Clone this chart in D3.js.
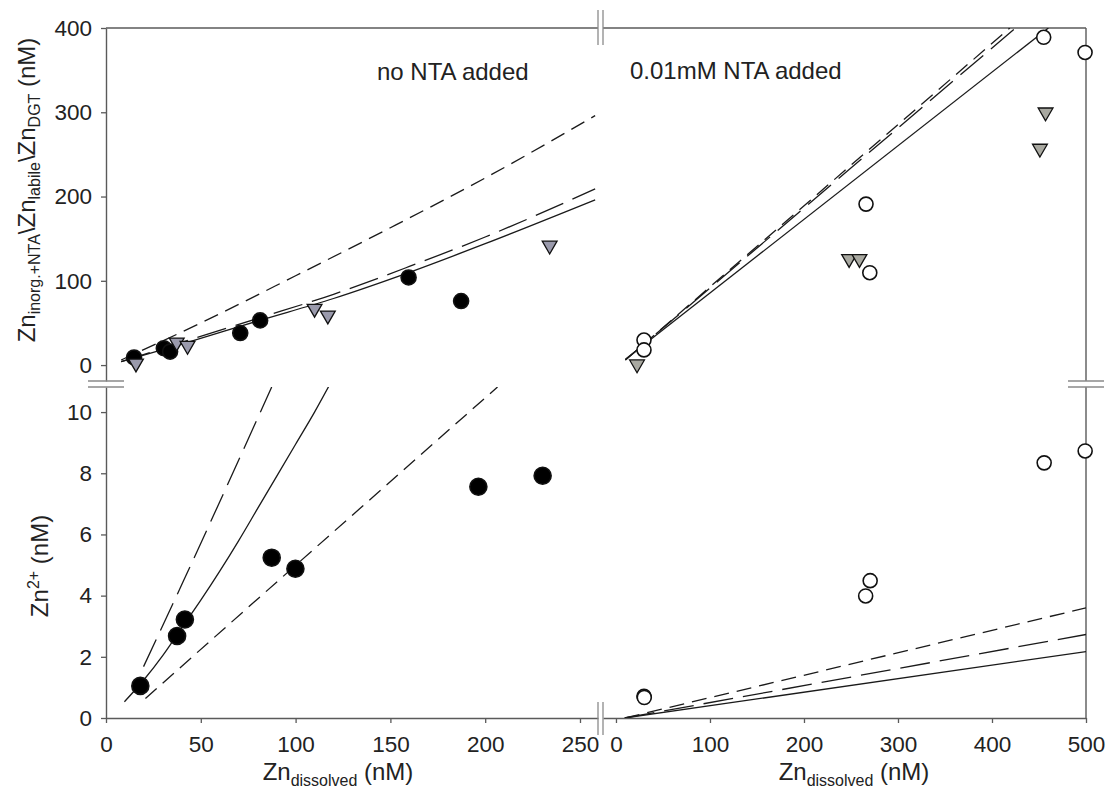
<!DOCTYPE html>
<html>
<head>
<meta charset="utf-8">
<script src="https://cdn.jsdelivr.net/npm/d3@7"></script>
<style>
  body { margin: 0; background: #fff; }
  svg text { font-family: "Liberation Sans", Arial, sans-serif; fill: #222; }
</style>
</head>
<body>
<svg id="chart" width="1109" height="791"></svg>
<script>
// ---- data ----
// left column: no NTA added (x 0..260), right column: 0.01mM NTA added (x 0..500)

// top left: Zn labile / DGT (nM)
const tlCircleX = [14.8, 30.5, 33.8, 70.8, 81.3, 159.6, 187.3];
const tlCircleY = [9, 20, 16, 38, 53, 104, 76];
const tlTriX = [15.8, 37.3, 43, 110, 117, 234];
const tlTriY = [2, 27, 23, 67, 59, 142];
const tlSolidX = [8, 40, 81, 120, 160, 200, 258];
const tlSolidY = [4, 25, 53, 79, 110, 144, 196];
const tlLongX = [8, 40, 81, 120, 160, 200, 258];
const tlLongY = [4, 27, 56, 84, 117, 152, 209];
const tlShortX = [8, 50, 100, 150, 200, 258];
const tlShortY = [6, 50, 106, 163, 222, 296];

// top right
const trCircleX = [455, 499, 266, 270, 29.8, 29.8];
const trCircleY = [389, 371, 191, 109.6, 29.7, 18];
const trTriX = [457, 451, 248, 259, 22.4];
const trTriY = [300, 257, 126, 126, 1];
const trSolidX = [10, 460];
const trSolidY = [7, 400];
const trLongX = [10, 425];
const trLongY = [6, 400];
const trShortX = [10, 419];
const trShortY = [6, 400];

// bottom left: Zn2+ (nM)
const blCircleX = [18.1, 37.5, 41.6, 87.4, 99.9, 196.4, 230.3];
const blCircleY = [1.05, 2.68, 3.22, 5.24, 4.88, 7.56, 7.92];
const blSolidX = [9.7, 20, 30, 40, 50, 60, 70, 80, 90, 100, 110, 118];
const blSolidY = [0.53, 1.25, 2.05, 2.95, 3.85, 4.8, 5.8, 6.85, 7.9, 8.95, 10.0, 10.9];
const blLongX = [19.8, 41, 87.4];
const blLongY = [1.68, 4.5, 10.82];
const blShortX = [20.8, 100, 206.5];
const blShortY = [0.64, 4.99, 10.82];

// bottom right
const brCircleX = [29.8, 30.1, 265.6, 270.4, 455.5, 499.1];
const brCircleY = [0.71, 0.67, 3.99, 4.49, 8.34, 8.73];
const brSolidX = [9.4, 500];
const brSolidY = [0, 2.17];
const brLongX = [9.4, 500];
const brLongY = [0, 2.73];
const brShortX = [9.4, 500];
const brShortY = [0, 3.60];

const leftXTicks = [0, 50, 100, 150, 200, 250];
const rightXTicks = [0, 100, 200, 300, 400, 500];
const topYTicks = [0, 100, 200, 300, 400];
const bottomYTicks = [0, 2, 4, 6, 8, 10];

// ---- layout ----
const svg = d3.select('#chart');
const axisColor = '#5a5a5a';
const breakColor = '#8a8a8a';
const lineColor = '#1a1a1a';
const SHORT_DASH = '15,8';
const LONG_DASH = '30,10';

const xL = d3.scaleLinear().domain([0, 259.5]).range([106, 598]);
const xR = d3.scaleLinear().domain([-13.8, 500]).range([603, 1086]);
const yT = d3.scaleLinear().domain([-18.9, 400]).range([381, 28]);
const yB = d3.scaleLinear().domain([0, 10.82]).range([718, 387]);

// clip regions for the model lines
const defs = svg.append('defs');
function addClip(id, x0, x1, y0, y1) {
    defs.append('clipPath').attr('id', id)
        .append('rect')
        .attr('x', x0).attr('y', y0)
        .attr('width', x1 - x0).attr('height', y1 - y0);
}
addClip('clip-tl', xL.range()[0], xL.range()[1], yT.range()[1], yT.range()[0]);
addClip('clip-tr', xR.range()[0], xR.range()[1], yT.range()[1], yT.range()[0]);
addClip('clip-bl', xL.range()[0], xL.range()[1], yB.range()[1], yB.range()[0]);
addClip('clip-br', xR.range()[0], xR.range()[1], yB.range()[1], yB.range()[0]);

function zip(xs, ys) { return xs.map((v, i) => [v, ys[i]]); }

function drawLine(xs, ys, x, y, dash, clip) {
    const line = d3.line()
        .x(d => x(d[0]))
        .y(d => y(d[1]))
        .curve(d3.curveMonotoneX);
    svg.append('path')
        .datum(zip(xs, ys))
        .attr('clip-path', `url(#${clip})`)
        .attr('fill', 'none')
        .attr('stroke', lineColor)
        .attr('stroke-width', 1.3)
        .attr('stroke-dasharray', dash)
        .attr('d', line);
}

function drawCircles(xs, ys, x, y, fill, r) {
    svg.append('g').selectAll('circle')
        .data(zip(xs, ys))
        .join('circle')
        .attr('cx', d => x(d[0]))
        .attr('cy', d => y(d[1]))
        .attr('r', r)
        .attr('fill', fill)
        .attr('stroke', '#111')
        .attr('stroke-width', 1.6);
}

function drawTriangles(xs, ys, x, y, fill) {
    const tri = d3.symbol().type(d3.symbolTriangle).size(95);
    svg.append('g').selectAll('path')
        .data(zip(xs, ys))
        .join('path')
        .attr('transform', d => `translate(${x(d[0])},${y(d[1])}) rotate(180)`)
        .attr('d', tri)
        .attr('fill', fill)
        .attr('stroke', '#111')
        .attr('stroke-width', 1.3);
}

// ---- axes ----
function styleAxis(g) {
    g.attr('font-size', null).attr('font-family', null);
    g.select('.domain').attr('stroke', axisColor).attr('stroke-width', 1.4);
    g.selectAll('.tick line').attr('stroke', axisColor).attr('stroke-width', 1.3);
    g.selectAll('.tick text').style('font-size', '22.5px').attr('fill', '#222');
}

svg.append('g').attr('transform', 'translate(106,0)')
    .call(d3.axisLeft(yT).tickValues(topYTicks).tickSize(5).tickSizeOuter(0).tickPadding(9))
    .call(styleAxis);
svg.append('g').attr('transform', 'translate(106,0)')
    .call(d3.axisLeft(yB).tickValues(bottomYTicks).tickSize(5).tickSizeOuter(0).tickPadding(9))
    .call(styleAxis);
svg.append('g').attr('transform', 'translate(0,718)')
    .call(d3.axisBottom(xL).tickValues(leftXTicks).tickSize(5).tickSizeOuter(0).tickPadding(13))
    .call(styleAxis);
svg.append('g').attr('transform', 'translate(0,718)')
    .call(d3.axisBottom(xR).tickValues(rightXTicks).tickSize(5).tickSizeOuter(0).tickPadding(13))
    .call(styleAxis);

// top and right frame lines (no ticks)
const frame = svg.append('g').attr('stroke', axisColor).attr('stroke-width', 1.4);
frame.append('line').attr('x1', xL.range()[0]).attr('x2', xL.range()[1]).attr('y1', 28).attr('y2', 28);
frame.append('line').attr('x1', xR.range()[0]).attr('x2', xR.range()[1]).attr('y1', 28).attr('y2', 28);
frame.append('line').attr('x1', 1086).attr('x2', 1086).attr('y1', yT.range()[1]).attr('y2', yT.range()[0]);
frame.append('line').attr('x1', 1086).attr('x2', 1086).attr('y1', yB.range()[1]).attr('y2', yB.range()[0]);

// axis break marks
const brk = svg.append('g').attr('stroke', breakColor).attr('stroke-width', 1.3);
[598, 603].forEach(bx => {
    brk.append('line').attr('x1', bx).attr('x2', bx).attr('y1', 10).attr('y2', 45);
    brk.append('line').attr('x1', bx).attr('x2', bx).attr('y1', 702).attr('y2', 735);
});
[381, 387].forEach(by => {
    brk.append('line').attr('x1', 88).attr('x2', 124).attr('y1', by).attr('y2', by);
    brk.append('line').attr('x1', 1068).attr('x2', 1104).attr('y1', by).attr('y2', by);
});

// ---- model lines ----
drawLine(tlShortX, tlShortY, xL, yT, SHORT_DASH, 'clip-tl');
drawLine(tlLongX, tlLongY, xL, yT, LONG_DASH, 'clip-tl');
drawLine(tlSolidX, tlSolidY, xL, yT, null, 'clip-tl');

drawLine(trShortX, trShortY, xR, yT, SHORT_DASH, 'clip-tr');
drawLine(trLongX, trLongY, xR, yT, LONG_DASH, 'clip-tr');
drawLine(trSolidX, trSolidY, xR, yT, null, 'clip-tr');

drawLine(blShortX, blShortY, xL, yB, SHORT_DASH, 'clip-bl');
drawLine(blLongX, blLongY, xL, yB, LONG_DASH, 'clip-bl');
drawLine(blSolidX, blSolidY, xL, yB, null, 'clip-bl');

drawLine(brShortX, brShortY, xR, yB, SHORT_DASH, 'clip-br');
drawLine(brLongX, brLongY, xR, yB, LONG_DASH, 'clip-br');
drawLine(brSolidX, brSolidY, xR, yB, null, 'clip-br');

// ---- measured points ----
drawCircles(tlCircleX, tlCircleY, xL, yT, '#000', 7.5);
drawTriangles(tlTriX, tlTriY, xL, yT, '#9a9aac');
drawTriangles(trTriX, trTriY, xR, yT, '#a9a9a1');
drawCircles(trCircleX, trCircleY, xR, yT, '#fff', 7);
drawCircles(blCircleX, blCircleY, xL, yB, '#000', 8.5);
drawCircles(brCircleX, brCircleY, xR, yB, '#fff', 7);

// ---- texts ----
svg.append('text').attr('x', 377).attr('y', 80).style('font-size', '24px').text('no NTA added');
svg.append('text').attr('x', 630).attr('y', 79).style('font-size', '24px').text('0.01mM NTA added');

function subText(sel, parts) {
    parts.forEach(p => {
        const t = sel.append('tspan').text(p.t);
        if (p.sub) t.style('font-size', '16px').attr('baseline-shift', p.sub);
    });
}

const yTopLabel = svg.append('text')
    .attr('transform', 'translate(35,190) rotate(-90)')
    .attr('text-anchor', 'middle')
    .style('font-size', '24px');
subText(yTopLabel, [
    { t: 'Zn' }, { t: 'inorg.+NTA', sub: '-5' },
    { t: '\\Zn' }, { t: 'labile', sub: '-5' },
    { t: '\\Zn' }, { t: 'DGT', sub: '-5' },
    { t: ' (nM)' }
]);

const yBotLabel = svg.append('text')
    .attr('transform', 'translate(48,566) rotate(-90)')
    .attr('text-anchor', 'middle')
    .style('font-size', '24px');
subText(yBotLabel, [{ t: 'Zn' }, { t: '2+', sub: '9' }, { t: ' (nM)' }]);

[[338, 780], [854, 780]].forEach(([cx, cy]) => {
    const t = svg.append('text')
        .attr('x', cx).attr('y', cy)
        .attr('text-anchor', 'middle')
        .style('font-size', '24px');
    subText(t, [{ t: 'Zn' }, { t: 'dissolved', sub: '-6' }, { t: ' (nM)' }]);
});
</script>
</body>
</html>
